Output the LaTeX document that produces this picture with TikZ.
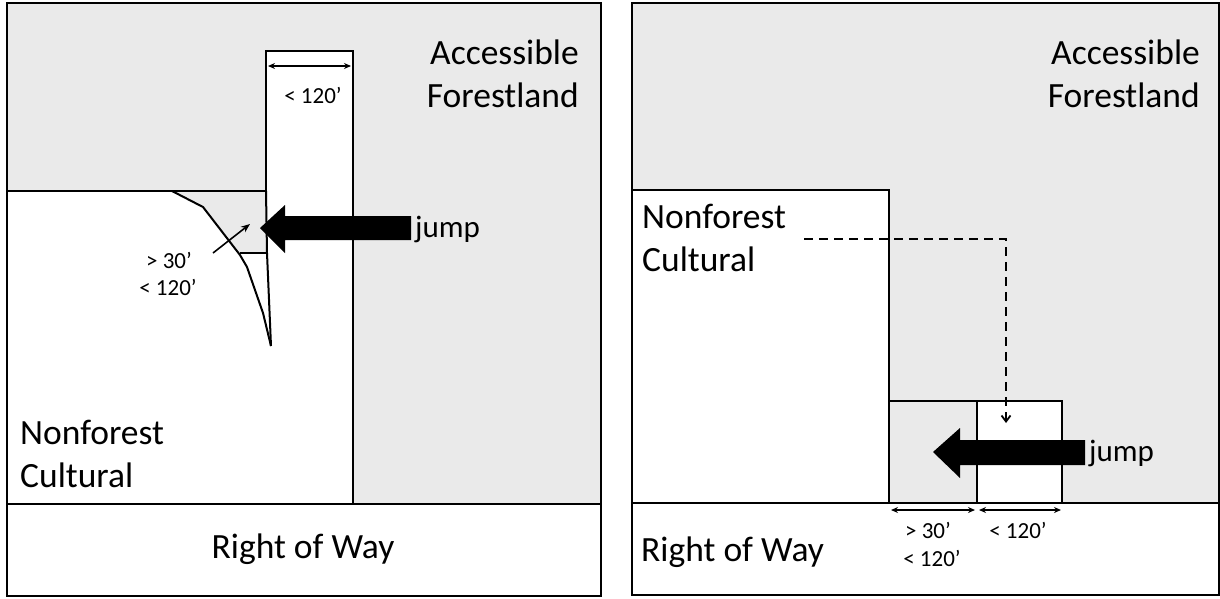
\documentclass[tikz,border=0pt]{standalone}
\usepackage{fontspec}
\setmainfont{Carlito}
\usetikzlibrary{arrows.meta}
\definecolor{forest}{RGB}{234,234,234}
\begin{document}
\begin{tikzpicture}[x=1pt,y=-1pt,
  border/.style={draw=black, line width=2.6pt},
  edge/.style={draw=black, line width=2pt},
  dim/.style={draw=black, line width=1.5pt, {Stealth[length=7pt,width=6pt]}-{Stealth[length=7pt,width=6pt]}},
  big/.style={font=\fontsize{35.5}{43}\selectfont, inner sep=0pt},
  jumpfont/.style={font=\fontsize{31}{37}\selectfont, inner sep=0pt},
  small/.style={font=\fontsize{23}{28}\selectfont, inner sep=0pt},
  bigarrow/.style={fill=black}]
\useasboundingbox (0,0) rectangle (1220,598);
\fill[white] (0,0) rectangle (1220,598);
% ---------------- left panel ----------------
\fill[forest] (7,3) rectangle (601,504);
\fill[white] (7,191) rectangle (267,504);
\fill[white] (266,51) rectangle (353,504);
\fill[white] (266,253) -- (271,346) -- (353,346) -- (353,253) -- cycle;
\fill[forest] (172,191) -- (203,207) -- (240,253) -- (267,253) -- (267,191) -- cycle;
\draw[border] (7,3) rectangle (601,596);
\draw[edge] (7,504) -- (601,504);
\draw[edge] (7,191) -- (267,191);
\draw[edge] (266,191) -- (266,51) -- (353,51) -- (353,504);
\draw[edge] (266,191) -- (267,253) -- (271,346);
\draw[edge] (172,191) -- (203,207) -- (240,255) -- (247,267) -- (263,313) -- (271,346);
\draw[edge] (240,253) -- (267,253);
\coordinate (la) at (268,66); \coordinate (lb) at (351,66);
\draw[dim] (la) -- (lb);
\node[small] (lw) at (313,95) {< 120’};
\coordinate (ta) at (213,253); \coordinate (tb) at (250,224);
\draw[edge, line width=1.6pt, -{Stealth[length=9pt,width=7pt]}] (ta) -- (tb);
\node[small] (lg) at (169,260) {> 30’};
\node[small] (ll) at (168,287) {< 120’};
\fill[bigarrow] (260,228) -- (285,205) -- (285,216) -- (411,216) -- (411,240) -- (285,240) -- (285,253) -- cycle;
\node[jumpfont, anchor=west] (ljump) at (415,229) {jump};
\node[big, anchor=east, align=right] (lacc) at (579,74) {Accessible\\Forestland};
\node[big, anchor=west, align=left] (lnon) at (20,454) {Nonforest\\Cultural};
\node[big] (lrow) at (303,549) {Right of Way};
% ---------------- right panel ----------------
\fill[forest] (632,3) rectangle (1219,503);
\fill[white] (632,190) rectangle (889,503);
\fill[white] (977,401) rectangle (1062,503);
\draw[border] (632,3) rectangle (1219,595);
\draw[edge] (632,503) -- (1219,503);
\draw[edge] (632,190) -- (889,190) -- (889,503);
\draw[edge] (889,401) -- (1062,401) -- (1062,503);
\draw[edge] (977,401) -- (977,503);
\coordinate (ra) at (891,510); \coordinate (rb) at (975,510);
\coordinate (rc) at (979,510); \coordinate (rd) at (1061,510);
\draw[dim] (ra) -- (rb);
\draw[dim] (rc) -- (rd);
\node[small] (rg) at (928,530) {> 30’};
\node[small] (rl) at (932,558) {< 120’};
\node[small] (rw) at (1018,530) {< 120’};
\fill[bigarrow] (933,452) -- (960,428) -- (960,440) -- (1085,440) -- (1085,465) -- (960,465) -- (960,478) -- cycle;
\node[jumpfont, anchor=west] (rjump) at (1089,453) {jump};
\node[big, anchor=east, align=right] (racc) at (1200,74) {Accessible\\Forestland};
\node[big, anchor=west, align=left] (rnon) at (642,238) {Nonforest\\Cultural};
\node[big, anchor=west] (rrow) at (641,552) {Right of Way};
\coordinate (da) at (804,239); \coordinate (db) at (1006,423);
\draw[black, line width=1.8pt, dashed, dash pattern=on 9pt off 6pt, -{Straight Barb[length=6pt,width=9pt]}] (da) -| (db);
\end{tikzpicture}
\end{document}
